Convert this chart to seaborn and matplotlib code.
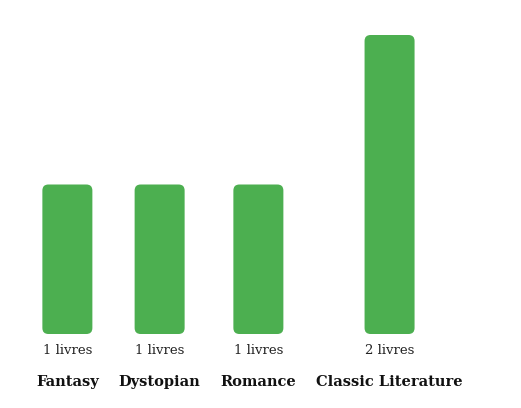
import matplotlib
matplotlib.use("Agg")
import matplotlib.pyplot as plt
from matplotlib.patches import FancyBboxPatch
import seaborn as sns
import pandas as pd

genres = ["Fantasy", "Dystopian", "Romance", "Classic Literature"]
counts = [1, 1, 1, 2]
value_labels = ["1 livres", "1 livres", "1 livres", "2 livres"]

sns.set_theme(style="white")
plt.rcParams["font.family"] = ["DejaVu Serif"]

W, H = 521, 408
fig = plt.figure(figsize=(W / 100, H / 100), dpi=100)
base_px, top_px = 334, 35
ax = fig.add_axes([0, (H - base_px) / H, 1, (base_px - top_px) / H])
ax.set_xlim(0, W)
ax.set_ylim(0, max(counts))
ax.axis("off")

# measure label widths to lay out like a flex row
renderer = fig.canvas.get_renderer()
cat_kw = dict(fontsize=10.5, fontweight="bold", color="#111111")
widths = []
for g in genres:
    t = fig.text(0, 0, g, **cat_kw)
    widths.append(t.get_window_extent(renderer).width)
    t.remove()

bar_w = 50
gap = 20
start = 36
centers = []
for w in widths:
    item = max(w, bar_w)
    centers.append(start + item / 2)
    start += item + gap

df = pd.DataFrame({"genre": genres, "count": counts})
sns.barplot(data=df, x="genre", y="count", order=genres, color="#4CAF50",
            ax=ax, native_scale=False)
ax.set_xlim(0, W)
ax.set_ylim(0, max(counts))
ax.axis("off")

px_per_unit = (base_px - top_px) / max(counts)
bars = list(ax.patches)
for p, c in zip(bars, centers):
    h = p.get_height()
    p.remove()
    fb = FancyBboxPatch((c - bar_w / 2, 0), bar_w, h,
                        boxstyle="round,pad=0,rounding_size=6",
                        mutation_aspect=1 / px_per_unit,
                        facecolor="#4CAF50", edgecolor="none")
    ax.add_patch(fb)

for c, v, g in zip(centers, value_labels, genres):
    ax.annotate(v, (c, 0), xytext=(0, -16 * 0.72), textcoords="offset points",
                ha="center", va="center", fontsize=9.5, color="#222222")
    ax.annotate(g, (c, 0), xytext=(0, -48 * 0.72), textcoords="offset points",
                ha="center", va="center", **cat_kw)

fig.savefig("out.png", dpi=100)
